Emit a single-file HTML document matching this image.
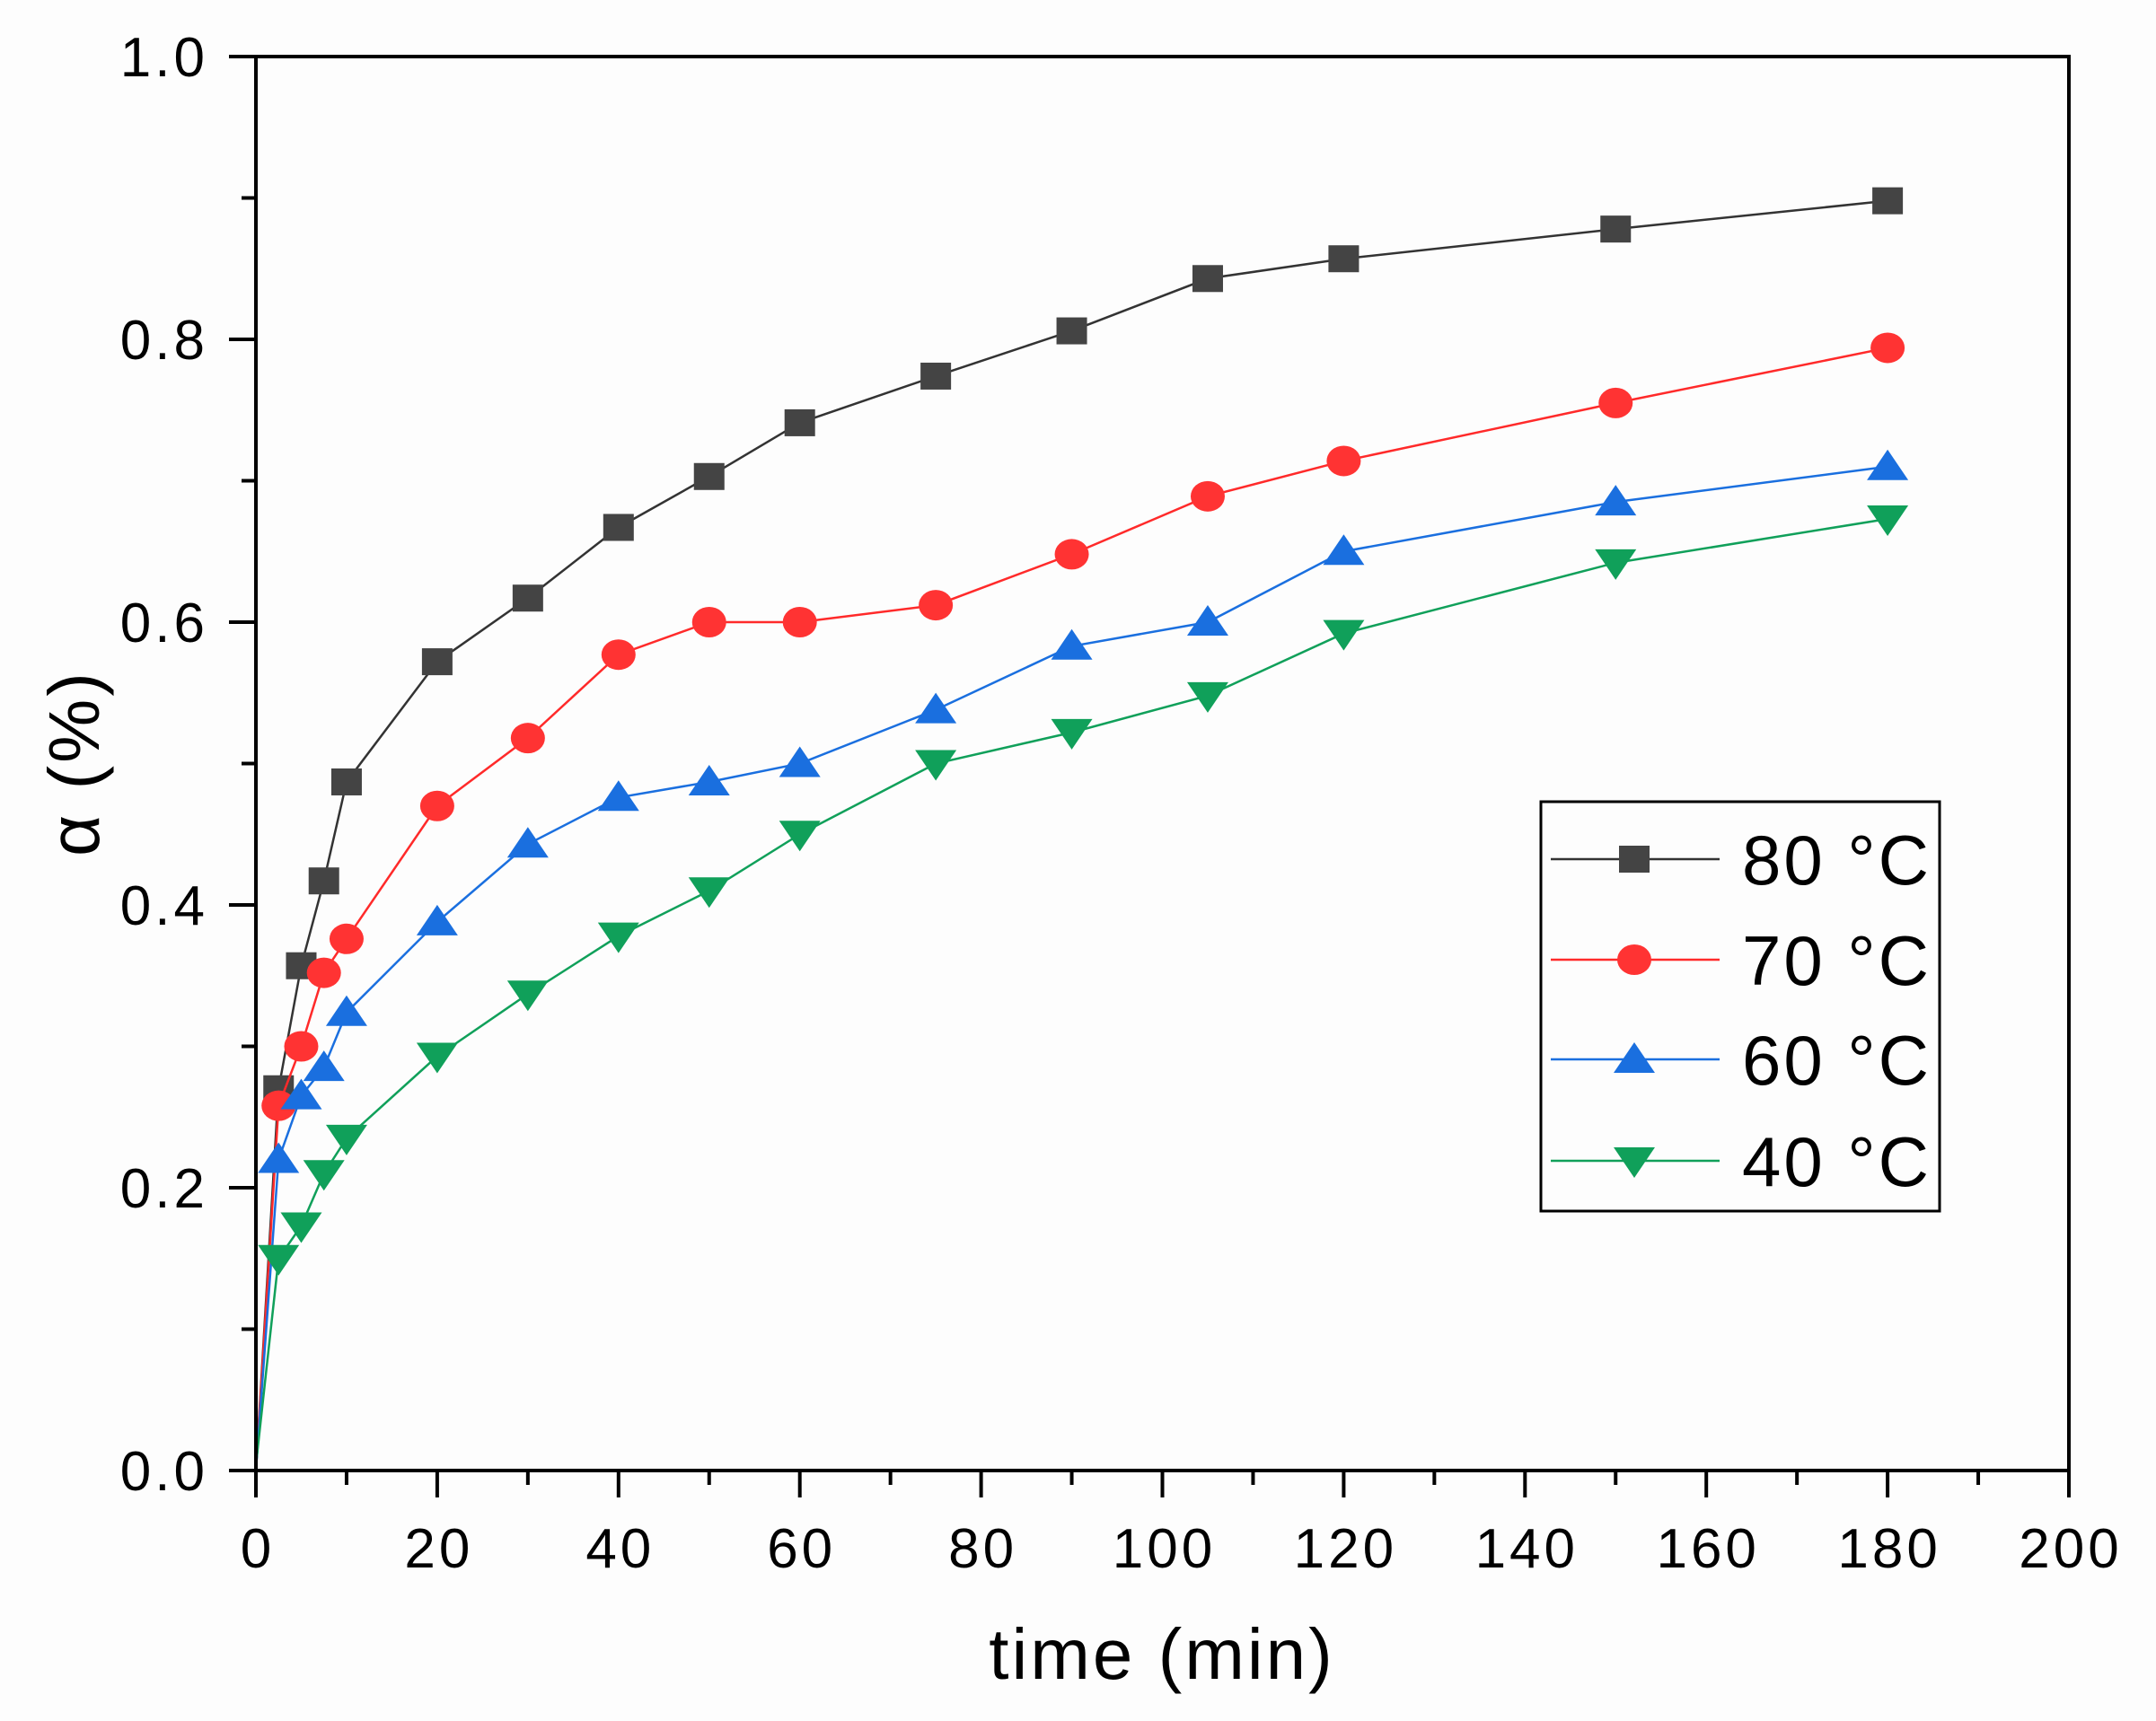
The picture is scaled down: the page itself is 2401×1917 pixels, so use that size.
<!DOCTYPE html>
<html><head><meta charset="utf-8"><style>
html,body{margin:0;padding:0;background:#fff}
svg{display:block}
text{font-family:"Liberation Sans",sans-serif;fill:#000}
</style></head><body>
<svg id="chart" width="2401" height="1917" viewBox="0 0 2401 1917" xmlns="http://www.w3.org/2000/svg">
<rect x="0" y="0" width="2401" height="1917" fill="#fdfdfd"/>
<g id="series"></g>
<rect x="285" y="63" width="2019" height="1575" fill="none" stroke="#000" stroke-width="4"/>
<g id="axes"></g>
<text x="1294" y="1870" font-size="80" letter-spacing="3" text-anchor="middle">time (min)</text>
<text transform="translate(110,850) rotate(-90)" font-size="80" letter-spacing="3" text-anchor="middle">α (%)</text>
<g id="legend"></g>
</svg>
<script>
const times = [0, 2.5, 5, 7.5, 10, 20, 30, 40, 50, 60, 75, 90, 105, 120, 150, 180];
const s80 = [0, 0.27, 0.357, 0.417, 0.487, 0.572, 0.617, 0.667, 0.703, 0.741, 0.774, 0.806, 0.843, 0.857, 0.878, 0.898];
const s70 = [0, 0.258, 0.3, 0.352, 0.376, 0.47, 0.518, 0.577, 0.6, 0.6, 0.612, 0.648, 0.689, 0.714, 0.755, 0.794];
const s60 = [0, 0.22, 0.265, 0.285, 0.324, 0.388, 0.443, 0.476, 0.487, 0.5, 0.538, 0.583, 0.6, 0.65, 0.685, 0.71];
const s40 = [0.004, 0.15, 0.173, 0.21, 0.235, 0.293, 0.337, 0.378, 0.41, 0.45, 0.5, 0.522, 0.548, 0.592, 0.642, 0.673];
const seriesNames = ["80 °C", "70 °C", "60 °C", "40 °C"];
const xTicks = [0, 20, 40, 60, 80, 100, 120, 140, 160, 180, 200];
const yTicks = ["0.0", "0.2", "0.4", "0.6", "0.8", "1.0"];

const NS = "http://www.w3.org/2000/svg";
const X0 = 285, X1 = 2304, Y0 = 1638, Y1 = 63;
const xs = t => X0 + (t / 200) * (X1 - X0);
const ys = v => Y0 - v * (Y0 - Y1);
function mk(tag, attrs, parent) {
  const e = document.createElementNS(NS, tag);
  for (const k in attrs) e.setAttribute(k, attrs[k]);
  parent.appendChild(e);
  return e;
}
const axes = document.getElementById("axes");
for (let t = 0; t <= 200; t += 10) {
  const major = t % 20 === 0;
  const l = mk("line", {x1: xs(t), x2: xs(t), y1: Y0, y2: Y0 + (major ? 30 : 16), stroke: "#000", "stroke-width": 4}, axes);
  
  
}
xTicks.forEach(t => {
  const tx = mk("text", {x: xs(t) + 2, y: 1746, "font-size": 62, "letter-spacing": 4, "text-anchor": "middle"}, axes);
  tx.textContent = t;
  
  
});
for (let i = 0; i <= 10; i++) {
  const v = i / 10, major = i % 2 === 0;
  const l = mk("line", {x1: X0, x2: X0 - (major ? 30 : 16), y1: ys(v), y2: ys(v), stroke: "#000", "stroke-width": 4}, axes);
  
  
}
yTicks.forEach(s => {
  const tx = mk("text", {x: 232, y: ys(parseFloat(s)) + 22, "font-size": 62, "letter-spacing": 4, "text-anchor": "end"}, axes);
  tx.textContent = s;
  
  
});
function marker(type, x, y, color, parent) {
  let e;
  if (type === "square") e = mk("rect", {x: x - 17, y: y - 15, width: 34, height: 30, fill: color}, parent);
  else if (type === "circle") e = mk("ellipse", {cx: x, cy: y, rx: 19, ry: 17, fill: color}, parent);
  else if (type === "up") e = mk("polygon", {points: `${x-23},${y+15} ${x+23},${y+15} ${x},${y-19}`, fill: color}, parent);
  else e = mk("polygon", {points: `${x-23},${y-15} ${x+23},${y-15} ${x},${y+19}`, fill: color}, parent);
  return e;
}
const defs = [
  {data: s80, line: "#333", fill: "#444", m: "square", key: "80"},
  {data: s70, line: "#ff2a2a", fill: "#ff3333", m: "circle", key: "70"},
  {data: s60, line: "#1a6fdf", fill: "#1a6fdf", m: "up", key: "60"},
  {data: s40, line: "#10a05a", fill: "#10a05a", m: "down", key: "40"}
];
const sg = document.getElementById("series");
defs.forEach((d, si) => {
  const g = mk("g", {}, sg);
  
  
  const pts = times.map((t, i) => `${xs(t)},${ys(d.data[i])}`).join(" ");
  const pl = mk("polyline", {points: pts, fill: "none", stroke: d.line, "stroke-width": 2.5}, g);
  
  
  times.forEach((t, i) => {
    if (t === 0) return;
    const m = marker(d.m, xs(t), ys(d.data[i]), d.fill, g);
    
    
  });
});
const lg = document.getElementById("legend");
const box = mk("rect", {x: 1716, y: 893, width: 444, height: 456, fill: "#fdfdfd", stroke: "#000", "stroke-width": 3}, lg);


const rowsY = [957, 1069, 1180, 1293];
defs.forEach((d, i) => {
  const g = mk("g", {}, lg);
  
  
  mk("line", {x1: 1727, x2: 1915, y1: rowsY[i], y2: rowsY[i], stroke: d.line, "stroke-width": 2.5}, g);
  marker(d.m, 1820, rowsY[i], d.fill, g);
  const tx = mk("text", {x: 1940, y: rowsY[i] + 28, "font-size": 78, "letter-spacing": 3}, g);
  tx.textContent = seriesNames[i];
});
</script>
</body></html>
